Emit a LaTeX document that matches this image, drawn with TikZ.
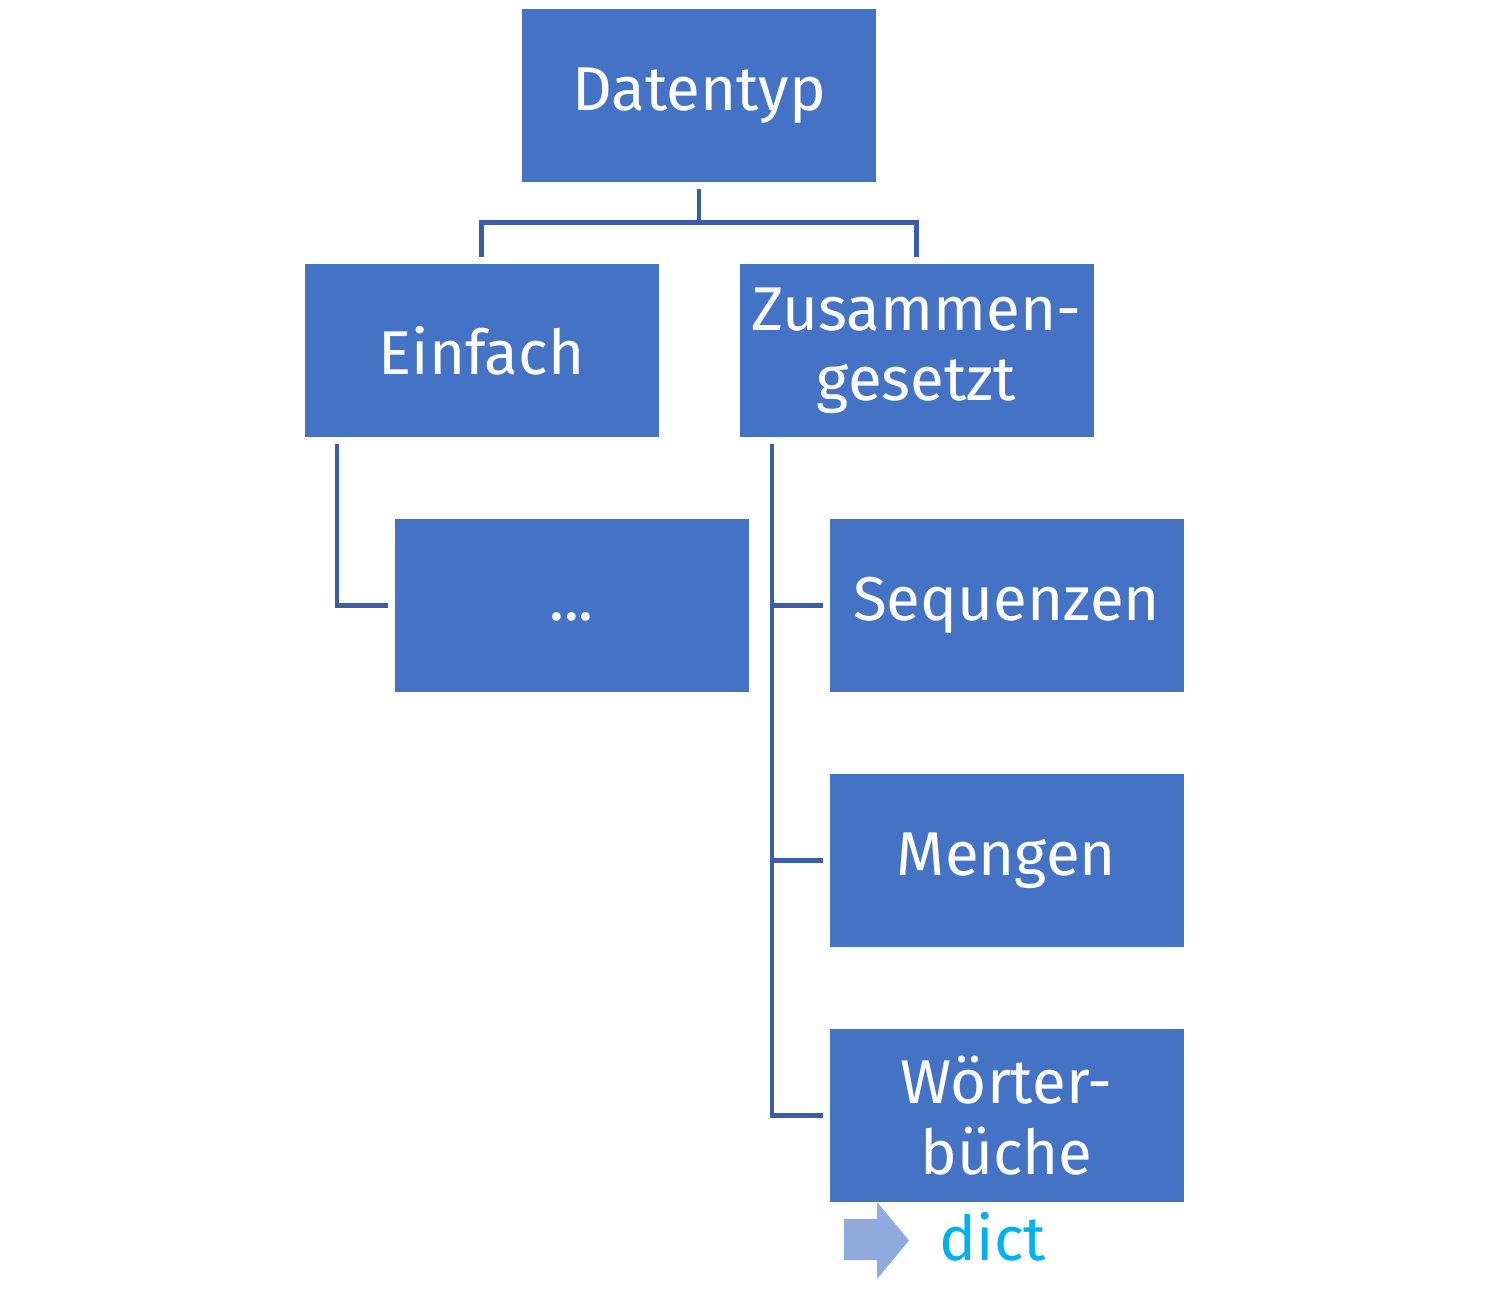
\documentclass[tikz,border=0pt]{standalone}
\usepackage{fontspec}
\setmainfont{Fira Sans}
\definecolor{boxblue}{HTML}{4472C4}
\definecolor{lineblue}{HTML}{3A5DA6}
\definecolor{arrowblue}{HTML}{8FAADC}
\definecolor{dictcyan}{HTML}{00B0F0}
\tikzset{
  typbox/.style={fill=boxblue,draw=none,minimum width=3.54cm,minimum height=1.73cm,
    text=white,align=center,inner sep=0pt,font=\fontsize{17.6}{20}\selectfont},
  conn/.style={draw=lineblue,line width=1.3pt}
}
\begin{document}
\begin{tikzpicture}
    \useasboundingbox (0,0) rectangle (14.85,-13.10);
    \node[typbox] (dt) at (6.99,-0.955) {Datentyp};
    \node[typbox] (ein) at (4.815,-3.505) {Einfach};
    \node[typbox] (zus) at (9.165,-3.505) {Zusammen-\\gesetzt};
    \node[typbox] (dots) at (5.715,-6.055) {\vphantom{Ag}...};
    \node[typbox] (seq) at (10.065,-6.055) {Sequenzen};
    \node[typbox] (men) at (10.065,-8.605) {Mengen};
    \node[typbox] (wb) at (10.065,-11.155) {Wörter-\\büche};
    \draw[conn] ([yshift=-0.06cm]dt.south) -- ++(0,-0.34) coordinate (split);
    \draw[conn] (split) -| ([yshift=0.06cm]ein.north);
    \draw[conn] (split) -| ([yshift=0.06cm]zus.north);
    \draw[conn] ([xshift=0.33cm,yshift=-0.06cm]ein.south west) |- ([xshift=-0.06cm]dots.west);
    \draw[conn] ([xshift=0.33cm,yshift=-0.06cm]zus.south west) coordinate (bus) |- ([xshift=-0.06cm]wb.west);
    \foreach \n in {seq,men}
        \draw[conn] (bus |- \n.west) -- ([xshift=-0.06cm]\n.west);
    \fill[arrowblue] (8.44,-12.19) -- (8.77,-12.19) -- (8.77,-12.02) -- (9.09,-12.405)
        -- (8.77,-12.79) -- (8.77,-12.60) -- (8.44,-12.60) -- cycle;
    \node[text=dictcyan,font=\fontsize{17.6}{20}\selectfont] (dict) at (9.93,-12.37) {dict};
\end{tikzpicture}
\end{document}
